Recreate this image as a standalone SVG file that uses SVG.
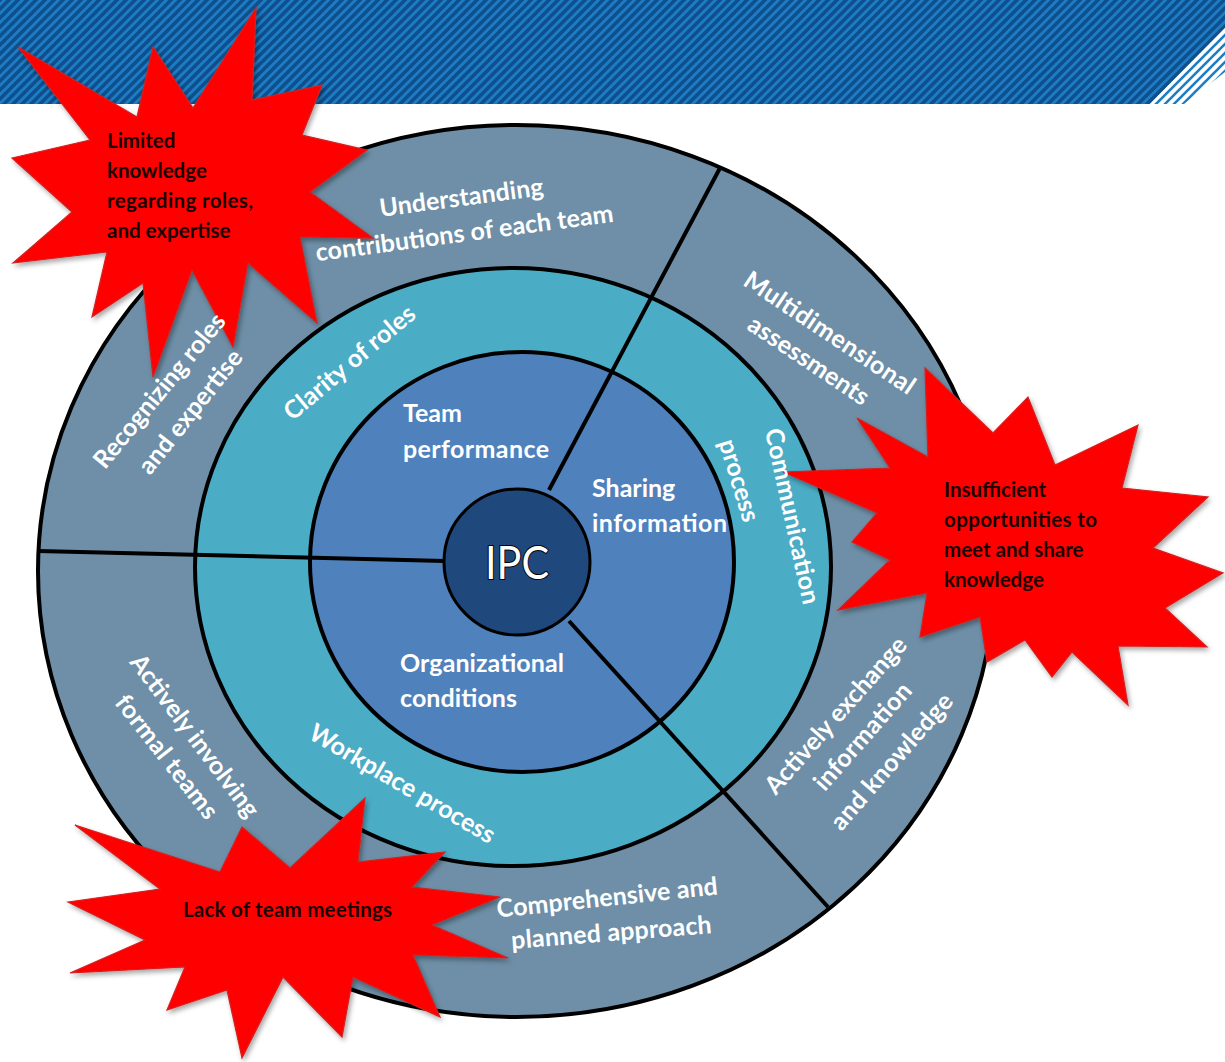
<svg xmlns="http://www.w3.org/2000/svg" width="1225" height="1062" viewBox="0 0 1225 1062">
<defs>
  <pattern id="stripes" patternUnits="userSpaceOnUse" width="9" height="9">
    <rect width="9" height="9" fill="#1c7dc4"/>
    <path d="M-1,10 L10,-1 M-1,1 L1,-1 M8,10 L10,8" stroke="#0f4f8d" stroke-width="3.6"/>
  </pattern>
  <pattern id="stripesLight" patternUnits="userSpaceOnUse" width="9" height="9">
    <rect width="9" height="9" fill="#ffffff"/>
    <path d="M-1,10 L10,-1 M-1,1 L1,-1 M8,10 L10,8" stroke="#1c7dc4" stroke-width="2.6"/>
  </pattern>
  <filter id="shadow" x="-10%" y="-10%" width="130%" height="130%">
    <feDropShadow dx="2" dy="3" stdDeviation="2.5" flood-color="#000" flood-opacity="0.35"/>
  </filter>
  <style>
    .ring { stroke: #000; stroke-width: 4; }
    .div { stroke: #000; stroke-width: 4; fill: none; stroke-linecap: butt; }
    .lbl { font-family: Lato, "Open Sans", "Liberation Sans", sans-serif; font-weight: bold; font-size: 25px; fill: #ffffff; }
    .mid { text-anchor: middle; }
    .star { fill: #ff0000; stroke: #d42020; stroke-width: 1.2; filter: url(#shadow); }
    .stxt { font-family: Lato, "Open Sans", "Liberation Sans", sans-serif; font-weight: bold; font-size: 20.5px; fill: #1a0202; }
    .ipc { font-family: Lato, "Open Sans", "Liberation Sans", sans-serif; font-size: 46px; fill: #ffffff; stroke: #000; stroke-width: 2; paint-order: stroke; text-anchor: middle; }
  </style>
</defs>
<rect width="1225" height="1062" fill="#ffffff"/>

<g id="banner">
  <polygon points="0,0 1225,0 1225,28 1150,104 0,104" fill="url(#stripes)"/>
  <polygon points="1150,104 1225,28 1225,72 1184,104" fill="url(#stripesLight)"/>
</g>

<g id="rings">
  <g id="outer-ring"><ellipse class="ring" cx="516.5" cy="571" rx="478.5" ry="446" fill="#6e8fa7"/></g>
  <g id="middle-ring"><ellipse class="ring" cx="513" cy="567" rx="318" ry="299" fill="#4bacc6"/></g>
  <g id="inner-ring"><ellipse class="ring" cx="522" cy="562" rx="212" ry="210" fill="#4f81bd"/></g>
</g>

<g id="connectors">
  <line class="div" x1="720" y1="168" x2="549" y2="490"/>
  <line class="div" x1="38" y1="551" x2="445" y2="561"/>
  <line class="div" x1="569" y1="621" x2="828" y2="907"/>
</g>

<g id="ipc">
  <circle cx="517" cy="562" r="73" fill="#1f497d" stroke="#000" stroke-width="3"/>
  <text class="ipc" x="517" y="579" textLength="64" lengthAdjust="spacingAndGlyphs">IPC</text>
</g>

<g id="star-roles">
  <polygon class="star" points="18,47 137,117 153,47 193,108 256,8 252,100 322,85 302,135 367,150 310,192 373,238 300,237 317,323 248,263 233,347 192,270 153,377 143,283 92,317 107,252 13,263 72,212 12,158 90,140"/>
  <text class="stxt" x="107" y="148">Limited</text>
  <text class="stxt" x="107" y="178">knowledge</text>
  <text class="stxt" x="107" y="208" textLength="146">regarding roles,</text>
  <text class="stxt" x="107" y="238">and expertise</text>
</g>

<g id="star-opportunities">
  <polygon class="star" points="783,472 890,468 857,418 928,457 925,368 993,433 1028,397 1055,465 1138,425 1122,488 1208,497 1153,548 1223,573 1165,608 1207,647 1118,646 1128,705 1072,652 1052,677 1025,640 987,662 980,617 920,637 927,593 838,610 890,560 852,542 877,513"/>
  <text class="stxt" x="944" y="497">Insufficient</text>
  <text class="stxt" x="944" y="527" textLength="153">opportunities to</text>
  <text class="stxt" x="944" y="557">meet and share</text>
  <text class="stxt" x="944" y="587">knowledge</text>
</g>

<g id="star-meetings">
  <polygon class="star" points="68,902 160,889 75,825 220,872 242,827 290,868 365,798 358,862 445,852 412,887 500,897 432,925 508,958 413,955 440,1017 353,977 342,1037 283,977 242,1058 227,990 167,1010 185,967 70,973 145,940"/>
  <text class="stxt" x="183" y="917" textLength="209">Lack of team meetings</text>
</g>

<g id="outer-labels" class="lbl">
  <g id="understanding">
    <text class="mid" transform="translate(462.5,206) rotate(-7.6)" textLength="165">Understanding</text>
    <text class="mid" transform="translate(465.5,241.5) rotate(-7.6)" textLength="300">contributions of each team</text>
  </g>
  <g id="multidimensional">
    <text class="mid" transform="translate(825,340) rotate(33.7)" textLength="200">Multidimensional</text>
    <text class="mid" transform="translate(804,367.5) rotate(33.7)" textLength="140">assessments</text>
  </g>
  <g id="recognizing">
    <text class="mid" transform="translate(166,396) rotate(-50.6)" textLength="192">Recognizing roles</text>
    <text class="mid" transform="translate(197,417) rotate(-51.5)" textLength="151">and expertise</text>
  </g>
  <g id="involving">
    <text class="mid" transform="translate(188,741) rotate(53)" textLength="197">Actively involving</text>
    <text class="mid" transform="translate(160,762) rotate(52)" textLength="150">formal teams</text>
  </g>
  <g id="comprehensive">
    <text class="mid" transform="translate(608,906) rotate(-6)" textLength="222">Comprehensive and</text>
    <text class="mid" transform="translate(612,941) rotate(-4.5)" textLength="201">planned approach</text>
  </g>
  <g id="exchange">
    <text class="mid" transform="translate(842,721) rotate(-48.5)" textLength="200">Actively exchange</text>
    <text class="mid" transform="translate(869,742) rotate(-48.7)" textLength="134">information</text>
    <text class="mid" transform="translate(898,767) rotate(-49)" textLength="172">and knowledge</text>
  </g>
</g>

<g id="middle-labels" class="lbl">
  <g id="clarity"><text class="mid" transform="translate(355,369) rotate(-40)" textLength="163">Clarity of roles</text></g>
  <g id="communication">
    <text class="mid" transform="translate(784,518) rotate(77.6)" textLength="179">Communication</text>
    <text class="mid" transform="translate(731,483) rotate(73)" textLength="85">process</text>
  </g>
  <g id="workplace"><text class="mid" transform="translate(398,791) rotate(30.3)" textLength="211">Workplace process</text></g>
</g>

<g id="inner-labels" class="lbl">
  <g id="team-performance">
    <text x="403" y="422">Team</text>
    <text x="403" y="458" textLength="146">performance</text>
  </g>
  <g id="sharing-information">
    <text x="592" y="497">Sharing</text>
    <text x="592" y="532" textLength="135">information</text>
  </g>
  <g id="organizational-conditions">
    <text x="400" y="672" textLength="164">Organizational</text>
    <text x="400" y="707" textLength="117">conditions</text>
  </g>
</g>
</svg>
